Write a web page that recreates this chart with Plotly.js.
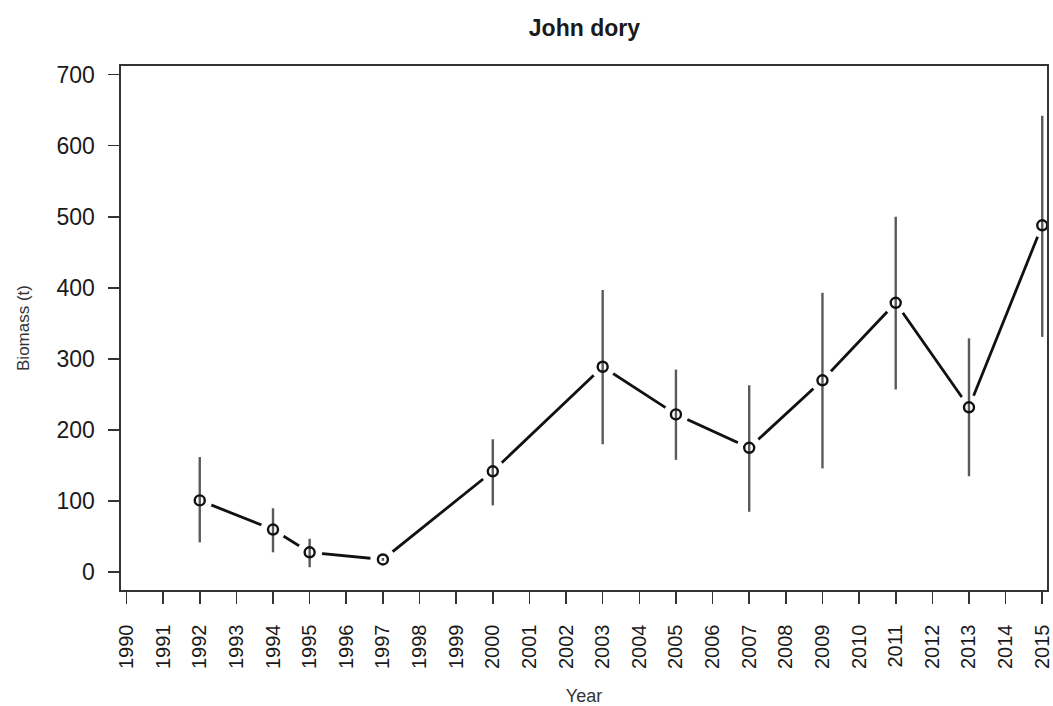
<!DOCTYPE html>
<html>
<head>
<meta charset="utf-8">
<script src="https://cdn.plot.ly/plotly-3.0.1.min.js"></script>
<style>html,body{margin:0;padding:0;background:#fff;}#chart{width:1053px;height:706px;}</style>
</head>
<body>
<div id="chart"></div>
<script>
const years = [1992, 1994, 1995, 1997, 2000, 2003, 2005, 2007, 2009, 2011, 2013, 2015];
const biomass = [101, 60, 28, 18, 142, 289, 222, 175, 270, 379, 232, 488];
const upper = [162, 90, 47, 20, 187, 397, 285, 263, 393, 500, 329, 642];
const lower = [42, 28, 7, 16, 94, 180, 158, 85, 146, 257, 135, 331];
const tickYears = [];
for (let y = 1990; y <= 2015; y++) tickYears.push(y);

const errPlus = biomass.map((v, i) => upper[i] - v);
const errMinus = biomass.map((v, i) => v - lower[i]);

const font = "Liberation Sans, Arial, sans-serif";

const traces = [
  {x: years, y: biomass, type: 'scatter', mode: 'lines+markers',
   line: {color: '#111', width: 2.8},
   marker: {symbol: 'circle', size: 25, color: '#ffffff', opacity: 1, line: {width: 0, color: '#ffffff'}},
   hoverinfo: 'skip', showlegend: false, cliponaxis: false},
  {x: years, y: biomass, type: 'scatter', mode: 'markers',
   marker: {symbol: 'circle-open', size: 10, color: '#111', line: {width: 2.4, color: '#111'}},
   error_y: {type: 'data', symmetric: false, array: errPlus, arrayminus: errMinus,
             color: '#5a5a5a', thickness: 2.4, width: 0},
   showlegend: false}
];

const layout = {
  width: 1053, height: 706,
  margin: {l: 121, r: 6, t: 66, b: 116},
  paper_bgcolor: '#fff', plot_bgcolor: '#fff',
  title: {text: '<b>John dory</b>', font: {family: font, size: 23, color: '#1a1a1a'},
          x: 0.555, xanchor: 'center', y: 0.96, yanchor: 'middle'},
  xaxis: {
    range: [1989.85, 2015.13],
    tickmode: 'array', tickvals: tickYears, ticktext: tickYears.map(String),
    tickangle: -90, ticks: 'outside', ticklen: 12, tickwidth: 1.6, tickcolor: '#333',
    showgrid: false, zeroline: false,
    showline: true, linecolor: '#333', linewidth: 1.6, mirror: true,
    tickfont: {family: font, size: 20, color: '#1a1a1a'},
    ticklabelstandoff: 13,
    automargin: false,
    title: {text: 'Year', font: {family: font, size: 18, color: '#333'}, standoff: 22}
  },
  yaxis: {
    range: [-25, 712],
    tickmode: 'array', tickvals: [0, 100, 200, 300, 400, 500, 600, 700],
    ticks: 'outside', ticklen: 11, tickwidth: 1.6, tickcolor: '#333',
    showgrid: false, zeroline: false,
    showline: true, linecolor: '#333', linewidth: 1.6, mirror: true,
    tickfont: {family: font, size: 23, color: '#1a1a1a'},
    ticklabelstandoff: 9,
    automargin: false,
    title: {text: 'Biomass (t)', font: {family: font, size: 17, color: '#333'}, standoff: 22}
  }
};

Plotly.newPlot('chart', traces, layout, {displayModeBar: false, staticPlot: true});
</script>
</body>
</html>
